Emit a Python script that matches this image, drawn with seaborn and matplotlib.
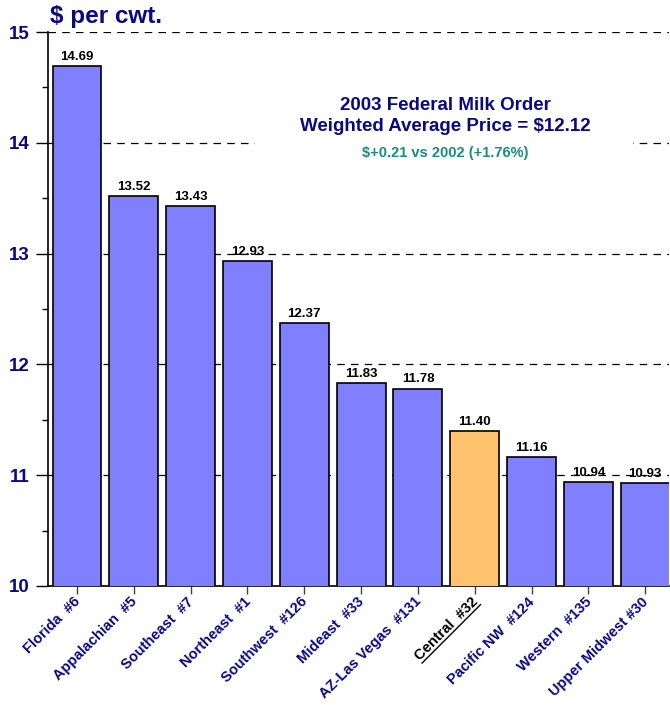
import matplotlib
matplotlib.use("Agg")
import matplotlib.pyplot as plt
from matplotlib.patches import Rectangle
import seaborn as sns
import pandas as pd
import numpy as np

# Federal milk order prices, 2003
regions = ["Florida  #6", "Appalachian  #5", "Southeast  #7", "Northeast  #1",
           "Southwest  #126", "Mideast  #33", "AZ-Las Vegas  #131", "Central  #32",
           "Pacific NW  #124", "Western  #135", "Upper Midwest #30"]
prices = [14.69, 13.52, 13.43, 12.93, 12.37, 11.83, 11.78, 11.40, 11.16, 10.94, 10.93]
highlight = "Central  #32"

navy = "#0A0A80"
blue = "#8080FF"
orange = "#FFC36E"

sns.set_style("white")
plt.rcParams["font.family"] = ["Liberation Sans", "DejaVu Sans"]
plt.rcParams["font.weight"] = "bold"

df = pd.DataFrame({"region": regions, "price": prices})
colors = [orange if r == highlight else blue for r in regions]

fig = plt.figure(figsize=(6.7, 7.05), dpi=100)
ax = fig.add_axes([0.0716, 0.1688, 0.927, 0.7858])

sns.barplot(data=df, x="region", y="price", hue="region", palette=colors,
            legend=False, width=0.86, edgecolor="black", linewidth=1.2,
            saturation=1, ax=ax, zorder=3)

ax.set_ylim(10, 15)
ax.set_xlim(-0.51, 10.42)
ax.set_yticks(range(10, 16))
ax.set_yticks(np.arange(10.5, 15, 1), minor=True)
ax.yaxis.grid(True, which="major", color="black", linestyle=(0, (6, 5)), linewidth=0.9, zorder=0)
ax.set_axisbelow(True)
for s in ["top", "right"]:
    ax.spines[s].set_visible(False)
for s in ["left", "bottom"]:
    ax.spines[s].set_color("black")
    ax.spines[s].set_linewidth(1.2)
ax.tick_params(axis="y", which="major", direction="out", length=9, width=1, color="black",
               labelsize=13.5, labelcolor=navy, left=True, pad=4)
ax.tick_params(axis="y", which="minor", direction="out", length=4, width=1, color="black", left=True)
ax.tick_params(axis="x", direction="out", length=6, width=1, color="#444444", bottom=True,
               labelsize=10.5, labelcolor=navy, pad=3)
ax.set_xlabel("")
ax.set_ylabel("")

ax.set_xticks(range(len(regions)))
ax.set_xticklabels(regions, rotation=45, ha="right", va="center_baseline",
                   rotation_mode="anchor")
central_label = None
for lab in ax.get_xticklabels():
    lab.set_fontweight("bold")
    if lab.get_text() == highlight:
        lab.set_color("black")
        central_label = lab
for lab in ax.get_yticklabels():
    lab.set_fontweight("bold")

for i, v in enumerate(prices):
    ax.text(i, v + 0.03, f"{v:.2f}", ha="center", va="bottom", fontsize=9.5,
            fontweight="bold", color="black", zorder=4)

# white mask behind the title block (hides part of the 14 gridline)
fig.add_artist(Rectangle((255 / 670, 1 - 150 / 705), 378 / 670, 16 / 705,
                         transform=fig.transFigure, facecolor="white", edgecolor="none", zorder=2))

fig.text(0.075, 0.977, "$ per cwt.", fontsize=17.5, fontweight="bold", color=navy, va="center")
fig.text(0.665, 0.851, "2003 Federal Milk Order", fontsize=13.5, fontweight="bold",
         color=navy, ha="center", va="center", zorder=3)
fig.text(0.665, 0.820, "Weighted Average Price = $12.12", fontsize=13.5, fontweight="bold",
         color=navy, ha="center", va="center", zorder=3)
fig.text(0.665, 0.783, "$+0.21 vs 2002 (+1.76%)", fontsize=10.5, fontweight="bold",
         color="#1A8C80", ha="center", va="center", zorder=3)

# underline the highlighted region label
fig.canvas.draw()
bb = central_label.get_window_extent()
h = central_label.get_size() * fig.dpi / 72 * 0.95
s = h / np.sqrt(2)
x0, y0 = bb.x0 + s, bb.y0
x1, y1 = bb.x1, bb.y1 - s
inv = fig.transFigure.inverted()
p0 = inv.transform((x0, y0))
p1 = inv.transform((x1, y1))
fig.add_artist(plt.Line2D([p0[0], p1[0]], [p0[1], p1[1]], color="black", linewidth=1,
                          transform=fig.transFigure))

fig.savefig("out.png", dpi=100)
